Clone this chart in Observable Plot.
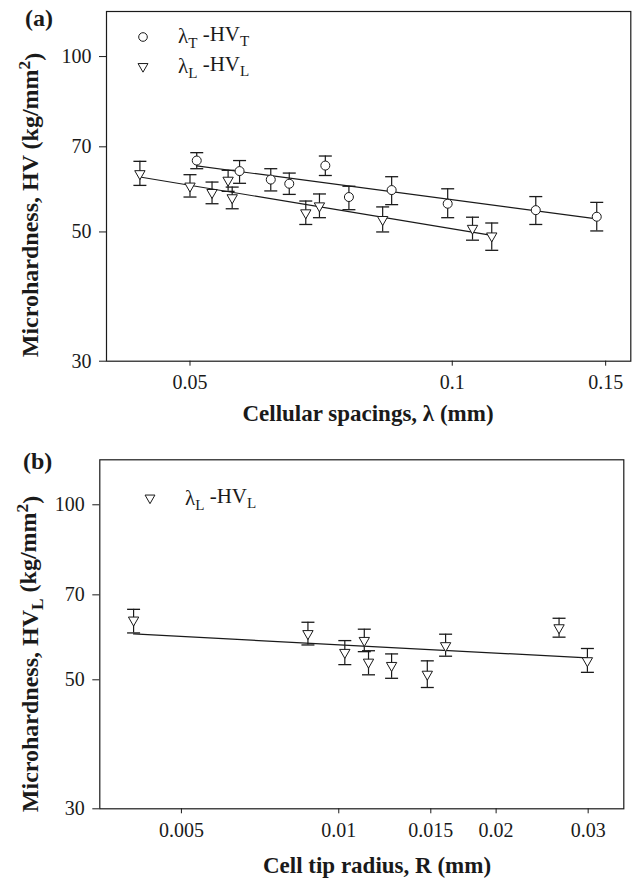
<!DOCTYPE html>
<html>
<head>
<meta charset="utf-8">
<script src="https://cdn.jsdelivr.net/npm/d3@7"></script>
<script src="https://cdn.jsdelivr.net/npm/@observablehq/plot@0.6"></script>
<style>
  body { margin: 0; background: #fff; }
  #chart svg { display: block; }
</style>
</head>
<body>
<div id="chart"></div>
<script>
// ---------- Panel (a) data ----------
// λT - HVT (circles)
const spacingT = [0.0509, 0.0570, 0.0619, 0.0650, 0.0715, 0.0761, 0.0852, 0.0988, 0.1247, 0.1465];
const hvT      = [66.3, 63.6, 61.5, 60.5, 65.0, 57.4, 59.0, 55.9, 54.5, 53.1];
const hvTHi    = [68.4, 66.3, 64.2, 63.1, 67.5, 59.9, 62.2, 59.3, 57.5, 56.2];
const hvTLo    = [64.2, 60.6, 58.8, 58.0, 62.5, 54.6, 55.7, 52.9, 51.5, 50.2];
// λL - HVL (triangles)
const spacingL = [0.0438, 0.0500, 0.0530, 0.0553, 0.0559, 0.0679, 0.0704, 0.0832, 0.1055, 0.1110];
const hvL      = [62.8, 59.8, 58.3, 61.2, 57.1, 53.8, 55.3, 52.4, 50.6, 49.1];
const hvLHi    = [66.1, 62.7, 60.9, 63.8, 59.7, 56.5, 58.1, 55.2, 53.0, 51.8];
const hvLLo    = [60.1, 57.4, 55.9, 58.7, 54.8, 51.5, 52.9, 50.0, 48.4, 46.5];
// power-law fits HV = k * λ^b
const fitT = {k: 36.0, b: -0.198};
const fitL = {k: 28.6, b: -0.248};

// ---------- Panel (b) data ----------
const tipR     = [0.00405, 0.00873, 0.01027, 0.01119, 0.01140, 0.01262, 0.01477, 0.01601, 0.02639, 0.0299];
const hvR      = [63.2, 59.9, 55.6, 58.3, 53.5, 52.8, 51.0, 57.1, 61.3, 53.8];
const hvRHi    = [66.1, 62.8, 58.4, 61.1, 56.1, 55.4, 53.9, 59.9, 63.8, 56.6];
const hvRLo    = [60.2, 57.4, 53.1, 55.9, 51.0, 50.3, 48.5, 54.9, 59.2, 51.5];
const fitR = {k: 46.2, b: -0.0473};

// ---------- axis ticks ----------
const ticksXa = [0.05, 0.1, 0.15];
const ticksXb = [0.005, 0.01, 0.015, 0.02, 0.03];
const ticksY  = [30, 50, 70, 100];

const INK = "#1a1a1a";
const FONT = "'Liberation Serif', 'Times New Roman', Times, serif";

const rows = (xs, ys, lo, hi) => xs.map((x, i) => ({x, y: ys[i], lo: lo[i], hi: hi[i]}));
const fitLine = (xs, f) => d3.extent(xs).map(x => ({x, y: f.k * Math.pow(x, f.b)}));

const capSym = {draw(ctx) { ctx.moveTo(-6.5, 0); ctx.lineTo(6.5, 0); }};
const triDown = {draw(ctx, size) {
  const r = Math.sqrt(size / Math.PI);
  ctx.moveTo(-1.15 * r, -0.8 * r);
  ctx.lineTo(1.15 * r, -0.8 * r);
  ctx.lineTo(0, 1.2 * r);
  ctx.closePath();
}};

function seriesMarks(data, symbol) {
  return [
    Plot.ruleX(data, {x: "x", y1: "lo", y2: "hi", stroke: INK, strokeWidth: 1.2}),
    Plot.dot(data, {x: "x", y: "hi", symbol: capSym, stroke: INK, strokeWidth: 1.3, fill: "none"}),
    Plot.dot(data, {x: "x", y: "lo", symbol: capSym, stroke: INK, strokeWidth: 1.3, fill: "none"})
  ];
}
function pointMarks(data, symbol) {
  return Plot.dot(data, {x: "x", y: "y", symbol, r: 4.5, stroke: INK, strokeWidth: 1, fill: "white"});
}

function makePlot(opts) {
  return Plot.plot({
    width: 641,
    height: 441,
    marginLeft: opts.ml, marginRight: opts.mr, marginTop: opts.mt, marginBottom: opts.mb,
    style: {fontFamily: FONT, fontSize: "20px", color: INK, background: "white"},
    x: {type: "log", domain: opts.xDomain, ticks: opts.xTicks, tickFormat: d => String(d),
        tickSize: 5, tickPadding: 9, label: null},
    y: {type: "log", domain: [30, 119.5], ticks: ticksY, tickFormat: d => String(d),
        tickSize: 7, tickPadding: 8, label: null},
    marks: [
      Plot.frame({stroke: INK, strokeWidth: 1.2}),
      ...opts.marks
    ]
  });
}

function addText(svg, {x, y, parts, size, weight = "normal", anchor = "start", rotate = 0}) {
  const t = svg.append("text")
    .attr("transform", `translate(${x},${y})` + (rotate ? ` rotate(${rotate})` : ""))
    .attr("text-anchor", anchor)
    .attr("font-family", FONT)
    .attr("font-size", size)
    .attr("font-weight", weight)
    .attr("fill", INK);
  let shift = 0;
  for (const p of parts) {
    const s = t.append("tspan").text(p.t);
    let target = p.sub ? 0.3 : p.sup ? -0.45 : 0;
    const dy = target - shift;
    if (dy !== 0) s.attr("dy", dy + "em");
    if (p.sub || p.sup) s.attr("font-size", "72%");
    // em units for dy are relative to the tspan font size; approximate with ratio
    shift = target;
  }
  return t;
}

// ---------- Panel (a) ----------
const dataT = rows(spacingT, hvT, hvTLo, hvTHi);
const dataL = rows(spacingL, hvL, hvLLo, hvLHi);
const plotA = makePlot({
  ml: 106, mr: 10.7, mt: 11, mb: 80.3,
  xDomain: [0.0401, 0.1603], xTicks: ticksXa,
  marks: [
    ...seriesMarks(dataT), ...seriesMarks(dataL),
    Plot.line(fitLine(spacingT, fitT), {x: "x", y: "y", stroke: INK, strokeWidth: 1.2}),
    Plot.line(fitLine(spacingL, fitL), {x: "x", y: "y", stroke: INK, strokeWidth: 1.2}),
    pointMarks(dataT, "circle"),
    pointMarks(dataL, triDown)
  ]
});

// ---------- Panel (b) ----------
const dataR = rows(tipR, hvR, hvRLo, hvRHi);
const plotB = makePlot({
  ml: 99.3, mr: 17.7, mt: 18.3, mb: 73.7,
  xDomain: [0.00349, 0.0351], xTicks: ticksXb,
  marks: [
    ...seriesMarks(dataR),
    Plot.line(fitLine(tipR, fitR), {x: "x", y: "y", stroke: INK, strokeWidth: 1.2}),
    pointMarks(dataR, triDown)
  ]
});

document.getElementById("chart").append(plotA, plotB);

// ---------- annotations (a) ----------
const sa = d3.select(plotA);
addText(sa, {x: 25, y: 26, parts: [{t: "(a)"}], size: 24, weight: "bold"});
addText(sa, {x: 368, y: 421, parts: [{t: "Cellular spacings, λ (mm)"}], size: 23, weight: "bold", anchor: "middle"});
addText(sa, {x: 38, y: 205, rotate: -90, anchor: "middle", size: 24, weight: "bold",
  parts: [{t: "Microhardness, HV (kg/mm"}, {t: "2", sup: true}, {t: ")"}]});
// legend
sa.append("circle").attr("cx", 143).attr("cy", 37).attr("r", 4.3)
  .attr("fill", "white").attr("stroke", INK);
sa.append("path").attr("transform", "translate(143,67)")
  .attr("d", d3.symbol(triDown, Math.PI * 4.3 * 4.3)()).attr("fill", "white").attr("stroke", INK);
addText(sa, {x: 178, y: 43, size: 21, parts: [{t: "λ"}, {t: "T", sub: true}, {t: " -HV"}, {t: "T", sub: true}]});
addText(sa, {x: 178, y: 73, size: 21, parts: [{t: "λ"}, {t: "L", sub: true}, {t: " -HV"}, {t: "L", sub: true}]});

// ---------- annotations (b) ----------
const sb = d3.select(plotB);
addText(sb, {x: 23, y: 28, parts: [{t: "(b)"}], size: 24, weight: "bold"});
addText(sb, {x: 377, y: 432, parts: [{t: "Cell tip radius, R (mm)"}], size: 23, weight: "bold", anchor: "middle"});
addText(sb, {x: 38, y: 213, rotate: -90, anchor: "middle", size: 24, weight: "bold",
  parts: [{t: "Microhardness, HV"}, {t: "L", sub: true}, {t: " (kg/mm"}, {t: "2", sup: true}, {t: ")"}]});
sb.append("path").attr("transform", "translate(150,57.5)")
  .attr("d", d3.symbol(triDown, Math.PI * 4.3 * 4.3)()).attr("fill", "white").attr("stroke", INK);
addText(sb, {x: 185, y: 64, size: 21, parts: [{t: "λ"}, {t: "L", sub: true}, {t: " -HV"}, {t: "L", sub: true}]});
</script>
</body>
</html>
